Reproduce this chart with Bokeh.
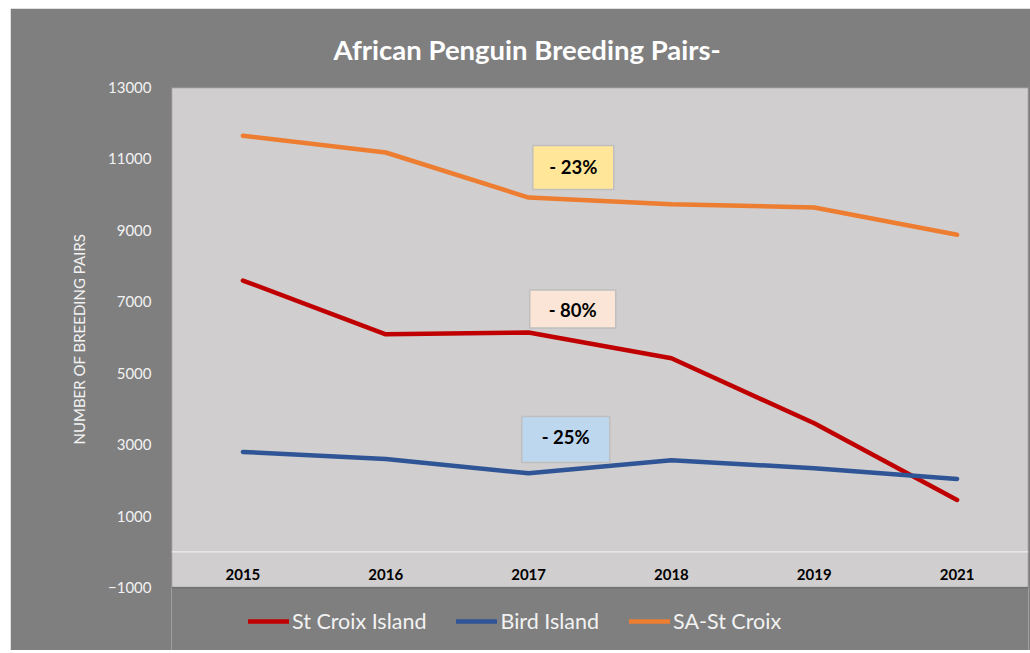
from bokeh.plotting import figure
from bokeh.models import (FactorRange, Range1d, FixedTicker, Span, Legend, LegendItem,
                          ColumnDataSource, Spacer, BoxAnnotation, Title)
from bokeh.layouts import column, row
from bokeh.core.properties import value
from bokeh.embed import file_html
from bokeh.resources import INLINE

# ---------------- data ----------------
years = ["2015", "2016", "2017", "2018", "2019", "2021"]
st_croix_island = [7596, 6092, 6140, 5420, 3600, 1455]
bird_island = [2799, 2603, 2201, 2565, 2341, 2043]
sa_st_croix = [11648, 11180, 9920, 9732, 9640, 8876]
y_ticks = [-1000, 1000, 3000, 5000, 7000, 9000, 11000, 13000]
y_min, y_max = -1000, 13000

change_labels = ["- 23%", "- 80%", "- 25%"]
change_anchor_year = "2017"
change_box_y = [10760, 6798, 3144]
change_text_y = [10788, 6784, 3228]
change_box_offset = [0.313, 0.309, 0.26]
change_box_w = [81, 86, 88]
change_box_h = [44, 38, 46]
change_fill = ["#ffe699", "#fbe5d6", "#bdd7ee"]

FONT = "Lato"
BG_OUT = "#7f7f7f"
BG_IN = "#d0cece"

FRAME_H = 564          # px of frame (plot area + legend strip)
PLOT_H = 501           # px of light plot area
units_per_px = (y_max - y_min) / PLOT_H
y_bottom = y_max - FRAME_H * units_per_px

p = figure(x_range=FactorRange(*years, range_padding=0), y_range=Range1d(y_bottom, y_max),
           width=1020, height=642, output_backend="svg", toolbar_location=None,
           min_border_left=161, min_border_right=2, min_border_top=0, min_border_bottom=0)
p.background_fill_color = BG_OUT
p.border_fill_color = BG_OUT
p.outline_line_color = None
p.grid.visible = False
p.xaxis.visible = False

# plot area box
p.add_layout(BoxAnnotation(left=0, right=len(years), bottom=y_min, top=y_max,
                           fill_color=BG_IN, fill_alpha=1, line_color="black",
                           line_width=1.5, level="underlay"))

# title
p.title.text = "African Penguin Breeding Pairs-"
p.title.align = "left"
p.title.offset = 162
p.title.text_font = FONT
p.title.text_font_size = "27.5px"
p.title.text_font_style = "bold"
p.title.text_color = "white"
p.title.standoff = 44

# y axis
yax = p.yaxis[0]
yax.ticker = FixedTicker(ticks=y_ticks)
yax.axis_line_color = None
yax.major_tick_line_color = None
yax.minor_tick_line_color = None
yax.major_label_standoff = 14
yax.major_label_text_font = FONT
yax.major_label_text_font_size = "15px"
yax.major_label_text_color = "#f2f2f2"

ytitle = Title(text="NUMBER OF BREEDING PAIRS", align="left", offset=206,
               text_font=FONT, text_font_style="normal", text_font_size="15px",
               text_color="#f2f2f2", standoff=36)
p.add_layout(ytitle, "left")

# zero line
p.add_layout(Span(location=0, dimension="width", line_color="#f2f2f2", line_width=1))

# x category labels inside plot area
p.text(x=years, y=[-640] * len(years), text=years, text_font=value(FONT),
       text_font_style="bold", text_font_size="15px", text_color="black",
       text_align="center", text_baseline="middle")

# series
series = [("St Croix Island", st_croix_island, "#c00000"),
          ("Bird Island", bird_island, "#2f5597"),
          ("SA-St Croix", sa_st_croix, "#ed7d31")]
items = []
for name, vals, col in series:
    r = p.line(x=years, y=vals, line_color=col, line_width=4.5, line_cap="round",
               line_join="round")
    items.append(LegendItem(label=name, renderers=[r]))

# change annotations
base = years.index(change_anchor_year) + 0.5
bx = [base + o for o in change_box_offset]
src = ColumnDataSource(dict(x=bx, y=change_box_y, ty=change_text_y, w=change_box_w,
                            h=change_box_h, fill=change_fill, t=change_labels))
p.rect(x="x", y="y", width="w", height="h", width_units="screen", height_units="screen",
       fill_color="fill", line_color="#bfbfbf", line_width=1.5, source=src)
p.text(x="x", y="ty", text="t", source=src, text_font=value(FONT), text_font_style="bold",
       text_font_size="18.5px", text_color="black", text_align="center",
       text_baseline="middle")

legend = Legend(items=items, orientation="horizontal", location=(77, 16),
                background_fill_alpha=0, border_line_color=None,
                label_text_color="#f2f2f2", label_text_font=FONT,
                label_text_font_size="21.5px", glyph_width=41, glyph_height=22,
                label_height=22, label_standoff=3, spacing=30, padding=6, margin=0)
p.add_layout(legend, "center")

layout = column(Spacer(height=8), row(Spacer(width=10), p))
open("out.html", "w").write(file_html(layout, INLINE))
